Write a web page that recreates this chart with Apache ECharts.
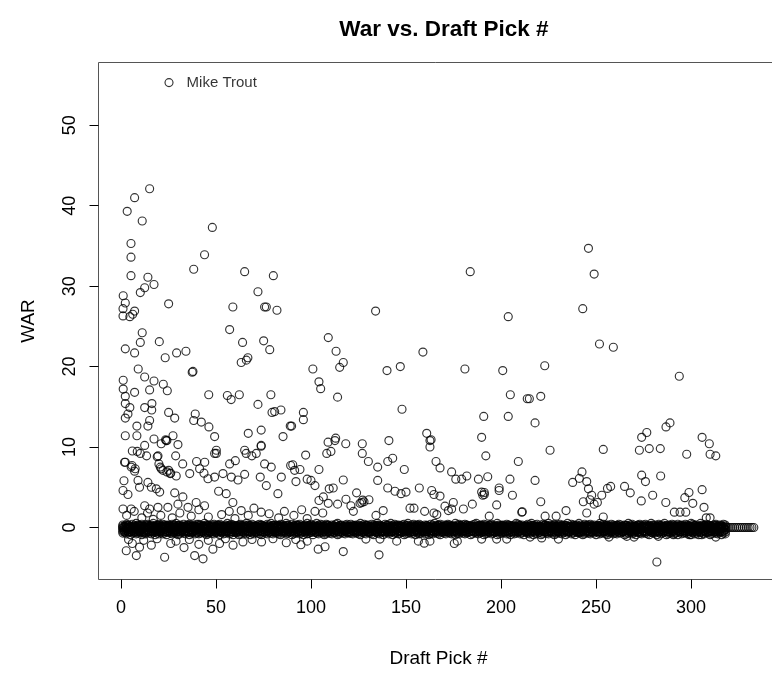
<!DOCTYPE html>
<html>
<head>
<meta charset="utf-8">
<title>War vs. Draft Pick #</title>
<script src="https://cdn.jsdelivr.net/npm/echarts@6/dist/echarts.min.js"></script>
<style>
  html, body { margin: 0; padding: 0; background: #fff; }
  #chart { width: 772px; height: 673px; }
</style>
</head>
<body>
<div id="chart"></div>
<script>
// axis ticks
const xTicks = [0, 50, 100, 150, 200, 250, 300];
const yTicks = [0, 10, 20, 30, 40, 50];

// labelled player
const labelled = [[25.3, 55.3, 'Mike Trout']];

// players with WAR above ~10  [pick, war]
const topPlayers = [
  [15.1,42.1],[7.2,41.0],[3.3,39.3],[11.2,38.1],[48.1,37.3],[5.3,35.3],[5.3,33.6],[44,33.9],[38.3,32.1],[5.3,31.3],
  [14.2,31.1],[17.4,30.2],[12.5,29.8],[10.2,29.2],[1.2,28.8],[2.3,27.9],[1.1,27.2],[7.2,26.9],[1.1,26.3],[4.7,26.2],
  [6.2,26.5],[25.1,27.8],[11.2,24.2],[10.2,23.0],[20.2,23.1],[2.3,22.2],[7.2,21.7],[23.3,21.1],[29.3,21.7],[34.2,21.9],
  [37.5,19.3],[37.9,19.4],[9.1,19.7],[12.5,18.7],[1.2,18.3],[17.4,18.2],[22.3,17.8],[1.2,17.2],[7.2,16.8],[15.1,17.1],
  [24.4,17.0],[46.2,16.5],[2.3,16.3],[2.3,15.4],[4.7,14.9],[12.5,14.9],[16.3,15.4],[16.2,14.6],[2.3,13.6],[3.7,14.1],
  [25.1,14.3],[28.3,13.6],[39.1,14.1],[38.3,13.3],[42.3,13.1],[46.3,12.5],[49.3,11.3],[15.1,13.3],[14.2,12.6],[8.4,12.6],
  [2.3,11.4],[8.4,11.4],[17.4,11.0],[27.4,11.4],[12.5,10.2],[21.2,10.4],[23.8,10.8],[30,10.3],[24.2,10.8],[23.5,10.9],
  [65.1,31.8],[80.2,31.3],[72.1,29.3],[58.9,27.4],[75.6,27.4],[76.5,27.4],[82.1,27.0],[57.2,24.6],[64,23.0],[75.1,23.2],
  [78.3,22.1],[63.3,20.5],[66.8,21.1],[66,20.8],[56,16.4],[58,15.9],[62.3,16.5],[78.9,16.5],[72.1,15.3],[79.5,14.3],
  [80.9,14.4],[84.2,14.6],[89.1,12.6],[67,11.7],[73.8,12.1],[85.3,11.3],[73.8,10.2],
  [183.8,31.8],[134,26.9],[203.8,26.2],[109.1,23.6],[113.2,21.9],[117,20.5],[115.1,19.9],[101,19.7],[158.9,21.8],[140,19.5],
  [147,20.0],[181,19.7],[200.9,19.5],[104.2,18.1],[105.1,17.25],[114,16.2],[204.9,16.5],[213.8,16.0],[147.9,14.7],[96,14.3],
  [96,13.4],[89.8,12.6],[190.9,13.8],[203.8,13.8],[189.8,11.2],[160.9,11.7],[163.2,10.9],[109,10.6],[113,11.1],[118.3,10.4],
  [127,10.4],[141,10.8],[162.6,10.8],[162.6,10.0],[112.6,10.8],
  [246,34.7],[249,31.5],[243,27.2],[251.8,22.8],[259.1,22.4],[223,20.1],[293.8,18.8],[214.9,16.0],[220.9,16.3],[217.9,13.0],
  [286.8,12.5],[288.9,13.0],[274,11.2],[276.7,11.8],[305.8,11.2],[309.6,10.4]
];

// players between ~3 and ~10 WAR
const midPlayers = [
  [6,9.5],[8.6,9.45],[10.2,9.2],[49.3,9.2],[13.5,8.9],[19.1,8.8],[28.8,8.9],[2.3,8.1],[5.8,7.7],[7.5,7.3],
  [20,7.9],[21.2,7.3],[25.1,7.1],[26.2,6.75],[32.5,7.9],[39.8,8.2],[44.1,8.1],[19.5,8.9],[20.7,7.5],[22.1,7.1],
  [24.2,6.9],[25.9,6.7],[29.1,6.4],[1.9,8.1],[5.4,7.5],[7.2,7.0],[1.6,5.8],[9,5.85],[9.8,5.0],[1.1,4.6],
  [3.7,4.1],[14.2,5.6],[16,5.0],[18.6,4.8],[20.4,4.4],[28.3,4.3],[32.6,3.8],[36.2,6.7],[41.4,7.3],[43.7,6.75],
  [45.8,6.06],[49.3,6.26],[50.2,9.2],[57.2,7.9],[60.2,8.3],[65.9,9.2],[68.9,8.9],[73.8,10.1],[71.2,9.2],[53.7,6.7],
  [58.1,6.26],[61.6,5.9],[65.1,6.6],[51.4,4.5],[55.4,4.2],[58.9,3.1],[75.6,7.9],[79.1,7.5],[84.4,6.26],[89.3,7.7],
  [91.4,7.1],[73.3,6.26],[76.5,5.2],[82.6,4.2],[50.2,9.6],[65.1,9.6],
  [97.2,9.0],[108.3,9.2],[110.5,9.45],[127,9.2],[130.2,8.2],[135.1,7.5],[140.4,8.2],[143,8.6],[149.1,7.2],[165.8,8.2],
  [167.9,7.4],[174,6.9],[176.2,6.0],[179.3,6.0],[182,6.4],[188.1,6.0],[193,6.3],[204.7,6.0],[192,8.9],[209.1,8.2],
  [90.4,7.8],[94.2,7.2],[92.1,5.7],[98,6.0],[100,5.85],[102.1,5.2],[104.2,7.2],[117,5.9],[109.6,4.8],[111.7,4.9],
  [135.1,5.85],[140.4,4.9],[144.2,4.5],[147.4,4.2],[150,4.4],[124,4.3],[127.2,3.4],[125.8,3.0],[130.5,3.45],[157,4.9],
  [163.5,4.6],[164.7,4.1],[167.9,3.9],[189.8,4.4],[191.2,4.1],[199,4.9],[199,4.6],[206,4.0],[104.2,3.35],[106.5,3.8],
  [109.1,3.0],[114,2.9],[118.4,3.5],[121,2.7],[126.7,3.1],[127.9,3.2],[174.9,3.1],[184.9,2.9],[190.4,4.0],[191.2,4.35],
  [197.7,2.8],
  [225.8,9.6],[253.8,9.7],[272.8,9.6],[278,9.8],[283.8,9.8],[297.7,9.1],[310,9.1],[313,8.9],[217.9,5.85],[237.7,5.6],
  [242.6,6.9],[241.2,6.1],[245.1,5.7],[246,4.8],[247.7,4.0],[243.3,3.2],[246.8,3.45],[249,2.9],[250.7,3.1],[253,4.0],
  [256,4.85],[257.7,5.1],[220.9,3.2],[265,5.1],[268,4.3],[274,6.5],[276,5.7],[284,6.4],[273.8,3.3],[279.8,4.0],
  [286.7,3.1],[296.7,3.7],[298.9,4.35],[300.9,3.0],[305.8,4.7]
];

// players with small positive WAR, just above the zero band
const lowPlayers = [
  [1.1,2.3],[5.4,2.3],[12.5,2.7],[15.1,2.3],[19.5,2.5],[24.7,2.5],[35.3,2.5],[39.6,3.1],[44,2.7],[30,2.9],
  [63.3,2.1],[73.8,1.9],[95.1,2.2],[102.1,2.0],[106.2,1.8],[122.3,2.0],[134.2,1.5],[138,2.1],[152.1,2.4],[154.2,2.4],
  [159.8,2.0],[164.7,1.8],[166.2,1.6],[170.5,2.65],[172.3,2.1],[174,2.3],[180.2,2.3],[193.8,1.4],[210.9,1.9],[245.1,1.8],
  [211.2,1.95],[253.8,1.3],[291.2,1.9],[294.2,1.9],[297.2,1.9],[306.8,2.5],[308,1.2],[310,1.2],[234.2,2.1],[229,1.4],
  [223.2,1.4],
  [3,1.5],[7,2.0],[11,1.2],[14,1.8],[17,1.0],[21,1.5],[27,1.2],[31,1.8],[37,1.4],[41,2.2],
  [46,1.3],[53,1.6],[57,2.0],[60,1.1],[67,1.5],[70,2.4],[78,1.7],[83,1.2],[86,2.0],[91,1.5],[98,1.1]
];

// players below the zero band
const negPlayers = [
  [282,-4.3],[2.8,-2.9],[8.1,-3.5],[9.8,-2.45],[23,-3.7],[26.2,-2.0],[33.2,-2.5],[38.8,-3.5],[43.2,-3.9],[48.4,-2.7],
  [51.9,-2.0],[64.2,-1.8],[94.7,-2.15],[103.8,-2.7],[107.4,-2.4],[117,-3.0],[135.8,-3.4],[128.9,-1.45],[136.3,-1.45],[145.1,-1.7],
  [156.5,-1.7],[159.6,-1.95],[162.6,-1.7],[175.4,-2.0],[177,-1.7],[189.8,-1.45],[197.7,-1.45],[203,-1.45],[215.3,-1.2],[221.4,-1.3],
  [230.2,-1.45],[241,-0.7],[256.8,-1.2],[266.2,-1.1],[270,-1.2],[282.8,-1.1],[290.7,-0.9],[299.1,-0.9],[305.6,-0.9],[313,-1.2],
  [4,-1.5],[6,-2.0],[12,-1.6],[16,-2.2],[19,-1.4],[29,-1.7],[36,-1.5],[41,-2.1],[46,-1.6],[55,-1.4],
  [59,-2.2],[69,-1.5],[74,-1.8],[80,-1.4],[87,-1.9],[92,-1.5],[98,-1.7]
];

// the dense band of near-zero WAR: one entry per pick
const bandPicks = [
  1,2,3,4,5,6,7,8,9,10,11,12,13,14,15,16,17,18,19,20,
  21,22,23,24,25,26,27,28,29,30,31,32,33,34,35,36,37,38,39,40,
  41,42,43,44,45,46,47,48,49,50,51,52,53,54,55,56,57,58,59,60,
  61,62,63,64,65,66,67,68,69,70,71,72,73,74,75,76,77,78,79,80,
  81,82,83,84,85,86,87,88,89,90,91,92,93,94,95,96,97,98,99,100,
  101,102,103,104,105,106,107,108,109,110,111,112,113,114,115,116,117,118,119,120,
  121,122,123,124,125,126,127,128,129,130,131,132,133,134,135,136,137,138,139,140,
  141,142,143,144,145,146,147,148,149,150,151,152,153,154,155,156,157,158,159,160,
  161,162,163,164,165,166,167,168,169,170,171,172,173,174,175,176,177,178,179,180,
  181,182,183,184,185,186,187,188,189,190,191,192,193,194,195,196,197,198,199,200,
  201,202,203,204,205,206,207,208,209,210,211,212,213,214,215,216,217,218,219,220,
  221,222,223,224,225,226,227,228,229,230,231,232,233,234,235,236,237,238,239,240,
  241,242,243,244,245,246,247,248,249,250,251,252,253,254,255,256,257,258,259,260,
  261,262,263,264,265,266,267,268,269,270,271,272,273,274,275,276,277,278,279,280,
  281,282,283,284,285,286,287,288,289,290,291,292,293,294,295,296,297,298,299,300,
  301,302,303,304,305,306,307,308,309,310,311,312,313,314,315,316,317,318,319,320,
  321,322,323,324,325,326,327,328,329,330,331,332,333
];

// players who never played: WAR exactly 0 at every pick
const bandZero = [
  0,0,0,0,0,0,0,0,0,0,0,0,0,0,0,0,0,0,0,0, 0,0,0,0,0,0,0,0,0,0,0,0,0,0,0,0,0,0,0,0,
  0,0,0,0,0,0,0,0,0,0,0,0,0,0,0,0,0,0,0,0, 0,0,0,0,0,0,0,0,0,0,0,0,0,0,0,0,0,0,0,0,
  0,0,0,0,0,0,0,0,0,0,0,0,0,0,0,0,0,0,0,0, 0,0,0,0,0,0,0,0,0,0,0,0,0,0,0,0,0,0,0,0,
  0,0,0,0,0,0,0,0,0,0,0,0,0,0,0,0,0,0,0,0, 0,0,0,0,0,0,0,0,0,0,0,0,0,0,0,0,0,0,0,0,
  0,0,0,0,0,0,0,0,0,0,0,0,0,0,0,0,0,0,0,0, 0,0,0,0,0,0,0,0,0,0,0,0,0,0,0,0,0,0,0,0,
  0,0,0,0,0,0,0,0,0,0,0,0,0,0,0,0,0,0,0,0, 0,0,0,0,0,0,0,0,0,0,0,0,0,0,0,0,0,0,0,0,
  0,0,0,0,0,0,0,0,0,0,0,0,0,0,0,0,0,0,0,0, 0,0,0,0,0,0,0,0,0,0,0,0,0,0,0,0,0,0,0,0,
  0,0,0,0,0,0,0,0,0,0,0,0,0,0,0,0,0,0,0,0, 0,0,0,0,0,0,0,0,0,0,0,0,0,0,0,0,0,0,0,0,
  0,0,0,0,0,0,0,0,0,0,0,0,0
];

// brief major-leaguers slightly above zero (picks 1-318)
const bandUp = [
  0.3,0.2,0.4,0.3,0.1,0.4,0.2,0.5,0.3,0.2,0.4,0.1,0.3,0.4,0.2,0.3,0.5,0.2,0.3,0.4,
  0.2,0.4,0.3,0.1,0.3,0.2,0.4,0.3,0.5,0.2,0.3,0.1,0.4,0.2,0.3,0.4,0.2,0.3,0.1,0.4,
  0.4,0.3,0.2,0.5,0.3,0.2,0.1,0.3,0.4,0.2,0.3,0.4,0.2,0.1,0.3,0.5,0.2,0.4,0.3,0.2,
  0.1,0.3,0.4,0.2,0.3,0.5,0.3,0.2,0.4,0.1,0.2,0.3,0.4,0.3,0.2,0.1,0.4,0.3,0.5,0.2,
  0.3,0.1,0.2,0.4,0.3,0.2,0.5,0.3,0.1,0.4,0.2,0.3,0.3,0.4,0.1,0.2,0.3,0.5,0.2,0.4,
  0.2,0.3,0.5,0.1,0.4,0.3,0.2,0.4,0.3,0.1,0.3,0.2,0.4,0.5,0.2,0.3,0.1,0.3,0.4,0.2,
  0.4,0.2,0.1,0.3,0.3,0.5,0.2,0.4,0.2,0.3,0.1,0.4,0.3,0.2,0.5,0.3,0.2,0.1,0.4,0.3,
  0.3,0.5,0.2,0.4,0.1,0.3,0.2,0.3,0.4,0.2,0.5,0.1,0.3,0.4,0.2,0.3,0.4,0.2,0.1,0.3,
  0.2,0.1,0.4,0.3,0.5,0.2,0.3,0.4,0.1,0.3,0.2,0.4,0.3,0.2,0.1,0.5,0.3,0.4,0.2,0.3,
  0.4,0.3,0.2,0.1,0.3,0.4,0.5,0.2,0.3,0.2,0.4,0.3,0.1,0.3,0.4,0.2,0.2,0.5,0.3,0.1,
  0.3,0.2,0.4,0.3,0.2,0.1,0.3,0.5,0.4,0.2,0.3,0.1,0.2,0.4,0.3,0.5,0.2,0.3,0.4,0.1,
  0.1,0.4,0.3,0.2,0.5,0.3,0.2,0.4,0.1,0.3,0.4,0.2,0.3,0.2,0.5,0.1,0.4,0.3,0.2,0.3,
  0.5,0.3,0.1,0.4,0.2,0.3,0.4,0.2,0.3,0.1,0.2,0.5,0.3,0.4,0.2,0.3,0.1,0.4,0.3,0.2,
  0.2,0.4,0.3,0.1,0.3,0.2,0.5,0.3,0.4,0.2,0.1,0.3,0.4,0.2,0.3,0.4,0.2,0.1,0.5,0.3,
  0.3,0.1,0.4,0.2,0.3,0.5,0.2,0.3,0.1,0.4,0.3,0.2,0.4,0.1,0.3,0.2,0.4,0.3,0.2,0.5,
  0.4,0.2,0.3,0.1,0.5,0.3,0.2,0.4,0.3,0.2,0.1,0.3,0.4,0.2,0.3,0.2,0.4,0.3
];

// a second group just above zero (picks 1-318)
const bandUp2 = [
  0.15,0.1,0.2,0.25,0.1,0.15,0.2,0.1,0.25,0.15,0.2,0.1,0.15,0.25,0.1,0.2,0.15,0.1,0.2,0.25,
  0.1,0.2,0.15,0.25,0.2,0.1,0.15,0.2,0.1,0.25,0.15,0.2,0.1,0.15,0.25,0.2,0.1,0.15,0.2,0.1,
  0.25,0.15,0.1,0.2,0.15,0.25,0.1,0.2,0.15,0.1,0.25,0.2,0.15,0.1,0.2,0.15,0.25,0.1,0.2,0.15,
  0.2,0.1,0.25,0.15,0.1,0.2,0.15,0.25,0.1,0.2,0.15,0.1,0.2,0.25,0.15,0.1,0.2,0.15,0.1,0.25,
  0.1,0.25,0.15,0.2,0.1,0.15,0.2,0.25,0.1,0.15,0.2,0.1,0.25,0.15,0.2,0.1,0.15,0.2,0.25,0.1,
  0.2,0.15,0.1,0.25,0.2,0.1,0.15,0.2,0.25,0.1,0.15,0.2,0.1,0.15,0.25,0.2,0.1,0.15,0.2,0.1,
  0.15,0.2,0.25,0.1,0.15,0.2,0.1,0.15,0.25,0.2,0.1,0.15,0.2,0.1,0.25,0.15,0.2,0.1,0.15,0.25,
  0.1,0.15,0.2,0.1,0.25,0.15,0.2,0.1,0.15,0.2,0.25,0.1,0.15,0.2,0.1,0.25,0.15,0.2,0.1,0.15,
  0.25,0.1,0.15,0.2,0.1,0.15,0.25,0.2,0.1,0.15,0.2,0.25,0.1,0.15,0.2,0.1,0.15,0.25,0.2,0.1,
  0.15,0.25,0.1,0.2,0.15,0.1,0.2,0.15,0.25,0.1,0.2,0.15,0.1,0.25,0.2,0.15,0.1,0.2,0.15,0.25,
  0.2,0.1,0.15,0.25,0.1,0.2,0.15,0.1,0.2,0.25,0.15,0.1,0.2,0.15,0.1,0.25,0.2,0.15,0.1,0.2,
  0.1,0.2,0.25,0.15,0.2,0.1,0.15,0.25,0.1,0.2,0.15,0.2,0.1,0.25,0.15,0.1,0.2,0.15,0.25,0.1,
  0.15,0.1,0.2,0.15,0.25,0.1,0.2,0.15,0.1,0.2,0.25,0.15,0.1,0.2,0.15,0.25,0.1,0.15,0.2,0.1,
  0.25,0.2,0.1,0.15,0.2,0.25,0.1,0.15,0.2,0.1,0.15,0.25,0.2,0.1,0.15,0.2,0.1,0.25,0.15,0.2,
  0.1,0.15,0.25,0.2,0.1,0.15,0.2,0.1,0.25,0.15,0.2,0.1,0.15,0.25,0.2,0.1,0.15,0.2,0.1,0.15,
  0.2,0.25,0.1,0.15,0.2,0.1,0.25,0.15,0.2,0.1,0.15,0.2,0.25,0.1,0.15,0.2,0.1,0.15
];

// brief major-leaguers slightly below zero (picks 1-318)
const bandDown = [
  -0.3,-0.4,-0.2,-0.5,-0.3,-0.4,-0.3,-0.2,-0.4,-0.5,-0.3,-0.2,-0.4,-0.3,-0.5,-0.4,-0.2,-0.3,-0.4,-0.3,
  -0.4,-0.2,-0.3,-0.5,-0.4,-0.3,-0.2,-0.4,-0.3,-0.5,-0.2,-0.4,-0.3,-0.4,-0.2,-0.5,-0.3,-0.4,-0.3,-0.2,
  -0.2,-0.5,-0.4,-0.3,-0.2,-0.4,-0.5,-0.3,-0.2,-0.4,-0.3,-0.5,-0.4,-0.2,-0.3,-0.4,-0.3,-0.5,-0.2,-0.4,
  -0.5,-0.3,-0.2,-0.4,-0.3,-0.2,-0.4,-0.5,-0.3,-0.4,-0.2,-0.3,-0.4,-0.5,-0.3,-0.2,-0.4,-0.3,-0.2,-0.5,
  -0.3,-0.4,-0.5,-0.2,-0.4,-0.3,-0.3,-0.4,-0.2,-0.5,-0.4,-0.3,-0.2,-0.4,-0.5,-0.3,-0.4,-0.2,-0.3,-0.4,
  -0.4,-0.3,-0.2,-0.5,-0.3,-0.4,-0.2,-0.3,-0.5,-0.4,-0.3,-0.2,-0.4,-0.3,-0.5,-0.2,-0.3,-0.4,-0.3,-0.5,
  -0.2,-0.4,-0.3,-0.4,-0.5,-0.3,-0.2,-0.4,-0.3,-0.2,-0.5,-0.4,-0.3,-0.4,-0.2,-0.3,-0.5,-0.4,-0.2,-0.3,
  -0.5,-0.3,-0.4,-0.2,-0.3,-0.4,-0.5,-0.2,-0.4,-0.3,-0.3,-0.4,-0.2,-0.5,-0.3,-0.4,-0.2,-0.3,-0.4,-0.5,
  -0.3,-0.2,-0.4,-0.5,-0.3,-0.4,-0.2,-0.3,-0.4,-0.2,-0.5,-0.3,-0.4,-0.3,-0.2,-0.4,-0.5,-0.3,-0.2,-0.4,
  -0.4,-0.5,-0.3,-0.2,-0.4,-0.3,-0.5,-0.4,-0.2,-0.3,-0.4,-0.3,-0.5,-0.2,-0.4,-0.3,-0.2,-0.4,-0.5,-0.3,
  -0.2,-0.3,-0.5,-0.4,-0.3,-0.2,-0.4,-0.3,-0.5,-0.4,-0.2,-0.3,-0.4,-0.5,-0.3,-0.2,-0.4,-0.3,-0.4,-0.2,
  -0.3,-0.4,-0.2,-0.3,-0.5,-0.4,-0.3,-0.2,-0.4,-0.5,-0.3,-0.4,-0.2,-0.3,-0.4,-0.5,-0.3,-0.2,-0.4,-0.3,
  -0.5,-0.2,-0.4,-0.3,-0.4,-0.2,-0.5,-0.3,-0.3,-0.4,-0.5,-0.2,-0.3,-0.4,-0.2,-0.3,-0.5,-0.4,-0.3,-0.2,
  -0.4,-0.3,-0.2,-0.5,-0.4,-0.3,-0.2,-0.4,-0.3,-0.5,-0.4,-0.3,-0.2,-0.3,-0.4,-0.5,-0.2,-0.4,-0.3,-0.4,
  -0.3,-0.5,-0.4,-0.2,-0.3,-0.4,-0.3,-0.5,-0.2,-0.4,-0.3,-0.2,-0.4,-0.5,-0.3,-0.4,-0.2,-0.3,-0.5,-0.4,
  -0.2,-0.4,-0.3,-0.5,-0.3,-0.2,-0.4,-0.3,-0.5,-0.4,-0.2,-0.3,-0.4,-0.3,-0.5,-0.2,-0.4,-0.3
];

// a second group just below zero (picks 1-318)
const bandDown2 = [
  -0.1,-0.2,-0.15,-0.25,-0.1,-0.2,-0.15,-0.1,-0.25,-0.2,-0.15,-0.1,-0.2,-0.25,-0.15,-0.1,-0.2,-0.15,-0.25,-0.1,
  -0.2,-0.15,-0.25,-0.1,-0.2,-0.15,-0.1,-0.25,-0.2,-0.1,-0.15,-0.25,-0.2,-0.1,-0.15,-0.2,-0.25,-0.1,-0.15,-0.2,
  -0.15,-0.25,-0.1,-0.2,-0.15,-0.1,-0.2,-0.25,-0.15,-0.1,-0.2,-0.15,-0.25,-0.1,-0.2,-0.15,-0.1,-0.2,-0.25,-0.15,
  -0.25,-0.1,-0.2,-0.15,-0.25,-0.2,-0.1,-0.15,-0.2,-0.25,-0.1,-0.15,-0.2,-0.1,-0.25,-0.15,-0.2,-0.1,-0.15,-0.25,
  -0.1,-0.15,-0.25,-0.2,-0.1,-0.15,-0.2,-0.25,-0.1,-0.2,-0.15,-0.1,-0.25,-0.2,-0.15,-0.1,-0.2,-0.25,-0.15,-0.1,
  -0.2,-0.25,-0.1,-0.15,-0.2,-0.1,-0.25,-0.15,-0.2,-0.1,-0.15,-0.2,-0.25,-0.1,-0.15,-0.2,-0.1,-0.25,-0.2,-0.15,
  -0.15,-0.1,-0.2,-0.25,-0.15,-0.1,-0.2,-0.15,-0.25,-0.1,-0.2,-0.15,-0.1,-0.25,-0.2,-0.15,-0.1,-0.2,-0.15,-0.25,
  -0.2,-0.15,-0.1,-0.2,-0.25,-0.15,-0.1,-0.2,-0.15,-0.25,-0.1,-0.2,-0.15,-0.1,-0.2,-0.25,-0.15,-0.1,-0.2,-0.15,
  -0.25,-0.2,-0.15,-0.1,-0.2,-0.25,-0.15,-0.1,-0.2,-0.15,-0.25,-0.1,-0.2,-0.15,-0.1,-0.25,-0.2,-0.15,-0.1,-0.2,
  -0.1,-0.25,-0.2,-0.15,-0.1,-0.2,-0.15,-0.25,-0.1,-0.2,-0.15,-0.1,-0.25,-0.2,-0.15,-0.1,-0.2,-0.25,-0.15,-0.1,
  -0.2,-0.1,-0.15,-0.25,-0.2,-0.1,-0.15,-0.2,-0.25,-0.1,-0.15,-0.2,-0.1,-0.25,-0.15,-0.2,-0.1,-0.15,-0.25,-0.2,
  -0.15,-0.2,-0.25,-0.1,-0.15,-0.2,-0.1,-0.25,-0.15,-0.2,-0.1,-0.15,-0.2,-0.25,-0.1,-0.15,-0.2,-0.1,-0.25,-0.15,
  -0.1,-0.15,-0.2,-0.25,-0.1,-0.2,-0.15,-0.1,-0.25,-0.2,-0.15,-0.1,-0.2,-0.15,-0.25,-0.1,-0.2,-0.15,-0.1,-0.25,
  -0.25,-0.1,-0.15,-0.2,-0.1,-0.25,-0.2,-0.15,-0.1,-0.2,-0.25,-0.15,-0.1,-0.2,-0.15,-0.1,-0.25,-0.2,-0.15,-0.1,
  -0.2,-0.15,-0.1,-0.25,-0.2,-0.15,-0.1,-0.2,-0.25,-0.15,-0.1,-0.2,-0.15,-0.25,-0.1,-0.2,-0.15,-0.1,-0.2,-0.25,
  -0.15,-0.1,-0.25,-0.2,-0.15,-0.1,-0.2,-0.25,-0.15,-0.1,-0.2,-0.15,-0.25,-0.1,-0.2,-0.15,-0.1,-0.2
];

// slightly worse than replacement (picks 1-318)
const bandLow = [
  -0.7,-0.6,-0.8,-0.6,-0.9,-0.7,-0.6,-0.8,-0.7,-0.6,-0.9,-0.7,-0.8,-0.6,-0.7,-0.8,-0.6,-0.9,-0.7,-0.8,
  -0.6,-0.8,-0.7,-0.9,-0.6,-0.7,-0.8,-0.6,-0.7,-0.9,-0.8,-0.6,-0.7,-0.8,-0.6,-0.9,-0.7,-0.6,-0.8,-0.7,
  -0.8,-0.7,-0.6,-0.7,-0.9,-0.8,-0.6,-0.7,-0.8,-0.6,-0.7,-0.9,-0.6,-0.8,-0.7,-0.6,-0.8,-0.7,-0.9,-0.6,
  -0.7,-0.9,-0.8,-0.6,-0.7,-0.8,-0.6,-0.9,-0.7,-0.8,-0.6,-0.7,-0.8,-0.9,-0.6,-0.7,-0.8,-0.6,-0.7,-0.8,
  -0.6,-0.7,-0.8,-0.9,-0.7,-0.6,-0.8,-0.7,-0.6,-0.9,-0.8,-0.7,-0.6,-0.8,-0.7,-0.9,-0.6,-0.8,-0.7,-0.6,
  -0.9,-0.6,-0.7,-0.8,-0.6,-0.7,-0.9,-0.8,-0.6,-0.7,-0.8,-0.6,-0.7,-0.9,-0.8,-0.6,-0.7,-0.8,-0.6,-0.7,
  -0.7,-0.8,-0.6,-0.7,-0.8,-0.9,-0.6,-0.7,-0.8,-0.6,-0.7,-0.8,-0.9,-0.6,-0.7,-0.8,-0.6,-0.9,-0.7,-0.6,
  -0.8,-0.6,-0.9,-0.7,-0.6,-0.8,-0.7,-0.6,-0.9,-0.8,-0.7,-0.6,-0.8,-0.7,-0.9,-0.6,-0.8,-0.7,-0.6,-0.8,
  -0.6,-0.9,-0.7,-0.8,-0.6,-0.7,-0.8,-0.9,-0.6,-0.7,-0.8,-0.6,-0.7,-0.8,-0.6,-0.9,-0.7,-0.8,-0.6,-0.7,
  -0.8,-0.7,-0.6,-0.9,-0.8,-0.6,-0.7,-0.8,-0.7,-0.6,-0.9,-0.8,-0.7,-0.6,-0.8,-0.7,-0.6,-0.9,-0.8,-0.7,
  -0.7,-0.6,-0.8,-0.7,-0.9,-0.6,-0.8,-0.7,-0.6,-0.8,-0.7,-0.9,-0.6,-0.7,-0.8,-0.6,-0.9,-0.7,-0.8,-0.6,
  -0.9,-0.8,-0.6,-0.7,-0.8,-0.6,-0.7,-0.9,-0.8,-0.6,-0.7,-0.8,-0.6,-0.9,-0.7,-0.6,-0.8,-0.7,-0.9,-0.6,
  -0.6,-0.7,-0.9,-0.8,-0.6,-0.7,-0.8,-0.6,-0.7,-0.9,-0.6,-0.8,-0.7,-0.6,-0.8,-0.9,-0.7,-0.6,-0.8,-0.7,
  -0.8,-0.6,-0.7,-0.6,-0.9,-0.8,-0.7,-0.6,-0.8,-0.7,-0.9,-0.6,-0.7,-0.8,-0.6,-0.7,-0.8,-0.9,-0.6,-0.7,
  -0.7,-0.9,-0.6,-0.8,-0.7,-0.6,-0.9,-0.8,-0.7,-0.6,-0.8,-0.7,-0.9,-0.6,-0.8,-0.7,-0.6,-0.8,-0.7,-0.9,
  -0.6,-0.8,-0.7,-0.9,-0.6,-0.7,-0.8,-0.6,-0.7,-0.9,-0.8,-0.6,-0.7,-0.8,-0.6,-0.9,-0.7,-0.8
];

// a second group in the lower half of the band (picks 1-318)
const bandLow2 = [
  -0.5,-0.55,-0.45,-0.6,-0.5,-0.45,-0.55,-0.6,-0.5,-0.45,-0.55,-0.5,-0.6,-0.45,-0.5,-0.55,-0.45,-0.6,-0.5,-0.55,
  -0.45,-0.6,-0.5,-0.55,-0.45,-0.5,-0.6,-0.55,-0.45,-0.5,-0.6,-0.45,-0.55,-0.5,-0.45,-0.6,-0.55,-0.5,-0.45,-0.6,
  -0.55,-0.5,-0.6,-0.45,-0.55,-0.6,-0.5,-0.45,-0.55,-0.6,-0.5,-0.45,-0.6,-0.55,-0.5,-0.45,-0.6,-0.5,-0.55,-0.45,
  -0.6,-0.45,-0.55,-0.5,-0.6,-0.45,-0.5,-0.55,-0.6,-0.45,-0.55,-0.5,-0.45,-0.6,-0.5,-0.55,-0.45,-0.6,-0.5,-0.55,
  -0.5,-0.6,-0.45,-0.55,-0.5,-0.45,-0.6,-0.5,-0.55,-0.45,-0.6,-0.55,-0.5,-0.45,-0.6,-0.5,-0.55,-0.45,-0.5,-0.6,
  -0.45,-0.55,-0.6,-0.5,-0.45,-0.55,-0.5,-0.6,-0.45,-0.55,-0.5,-0.6,-0.45,-0.5,-0.55,-0.6,-0.45,-0.5,-0.6,-0.55,
  -0.55,-0.45,-0.5,-0.6,-0.55,-0.45,-0.6,-0.5,-0.45,-0.55,-0.6,-0.5,-0.45,-0.55,-0.5,-0.6,-0.45,-0.55,-0.5,-0.45,
  -0.6,-0.5,-0.55,-0.45,-0.6,-0.5,-0.45,-0.55,-0.6,-0.5,-0.45,-0.6,-0.55,-0.5,-0.45,-0.55,-0.6,-0.5,-0.45,-0.55,
  -0.5,-0.55,-0.6,-0.45,-0.5,-0.55,-0.45,-0.6,-0.5,-0.55,-0.45,-0.5,-0.6,-0.55,-0.45,-0.5,-0.6,-0.45,-0.55,-0.5,
  -0.45,-0.6,-0.5,-0.55,-0.45,-0.6,-0.55,-0.5,-0.45,-0.6,-0.5,-0.55,-0.45,-0.6,-0.5,-0.45,-0.55,-0.6,-0.5,-0.45,
  -0.55,-0.5,-0.45,-0.6,-0.55,-0.5,-0.6,-0.45,-0.55,-0.5,-0.6,-0.45,-0.5,-0.55,-0.6,-0.45,-0.5,-0.55,-0.45,-0.6,
  -0.6,-0.45,-0.55,-0.5,-0.6,-0.45,-0.5,-0.55,-0.6,-0.45,-0.55,-0.5,-0.6,-0.45,-0.5,-0.55,-0.45,-0.6,-0.5,-0.55,
  -0.45,-0.55,-0.5,-0.6,-0.45,-0.55,-0.6,-0.5,-0.45,-0.55,-0.5,-0.6,-0.55,-0.45,-0.5,-0.6,-0.45,-0.55,-0.5,-0.6,
  -0.5,-0.6,-0.45,-0.55,-0.5,-0.6,-0.45,-0.5,-0.55,-0.6,-0.45,-0.5,-0.55,-0.6,-0.45,-0.5,-0.55,-0.45,-0.6,-0.5,
  -0.55,-0.45,-0.6,-0.5,-0.55,-0.45,-0.5,-0.6,-0.55,-0.45,-0.5,-0.6,-0.45,-0.55,-0.5,-0.6,-0.45,-0.55,-0.5,-0.45,
  -0.6,-0.5,-0.55,-0.45,-0.6,-0.5,-0.45,-0.55,-0.6,-0.5,-0.45,-0.55,-0.5,-0.6,-0.45,-0.55,-0.5,-0.6
];

const FONT = '"Liberation Sans", Arial, Helvetica, sans-serif';
const ringStyle = {
  color: 'rgba(0,0,0,0)',
  borderColor: '#000',
  borderWidth: 1.15
};

function layerToPoints(layer) {
  return layer.map((war, i) => [bandPicks[i], war]);
}

function ringSeries(data, extra) {
  return Object.assign({
    type: 'scatter',
    data: data,
    symbol: 'circle',
    symbolSize: 8,
    itemStyle: ringStyle,
    silent: true,
    animation: false,
    progressive: 0,
    emphasis: { disabled: true }
  }, extra || {});
}

const chart = echarts.init(document.getElementById('chart'), null, { renderer: 'canvas' });

chart.setOption({
  backgroundColor: '#fff',
  animation: false,
  title: {
    text: 'War vs. Draft Pick #',
    left: 439,
    top: 13,
    textAlign: 'center',
    textStyle: { fontFamily: FONT, fontWeight: 'bold', fontSize: 22.5, color: '#000' }
  },
  grid: {
    left: 98.5,
    top: 62.5,
    width: 680,
    bottom: 93.5,
    outerBoundsMode: 'none',
    show: true,
    borderColor: '#555',
    borderWidth: 1,
    backgroundColor: 'transparent'
  },
  xAxis: {
    type: 'value',
    min: -11.8,
    max: 346,
    axisLine: { show: false, onZero: false },
    axisTick: { show: true, customValues: xTicks, length: 9, lineStyle: { color: '#000', width: 1 } },
    axisLabel: { customValues: xTicks, fontFamily: FONT, fontSize: 18, color: '#000', margin: 20 },
    splitLine: { show: false },
    name: 'Draft Pick #',
    nameLocation: 'middle',
    nameGap: 70,
    nameTextStyle: { fontFamily: FONT, fontSize: 19, color: '#000' }
  },
  yAxis: {
    type: 'value',
    min: -6.47,
    max: 57.8,
    axisLine: { show: false, onZero: false },
    axisTick: { show: true, customValues: yTicks, length: 9, lineStyle: { color: '#000', width: 1 } },
    axisLabel: { customValues: yTicks, rotate: 90, fontFamily: FONT, fontSize: 18, color: '#000', margin: 19 },
    splitLine: { show: false },
    name: 'WAR',
    nameLocation: 'middle',
    nameGap: 60,
    nameRotate: 90,
    nameTextStyle: { fontFamily: FONT, fontSize: 19, color: '#000' }
  },
  series: [
    ringSeries(layerToPoints(bandLow)),
    ringSeries(layerToPoints(bandLow2)),
    ringSeries(layerToPoints(bandDown)),
    ringSeries(layerToPoints(bandDown2)),
    ringSeries(layerToPoints(bandZero)),
    ringSeries(layerToPoints(bandUp2)),
    ringSeries(layerToPoints(bandUp)),
    ringSeries(negPlayers),
    ringSeries(lowPlayers),
    ringSeries(midPlayers),
    ringSeries(topPlayers),
    ringSeries(labelled, {
      label: {
        show: true,
        position: 'right',
        distance: 13,
        formatter: (p) => p.data[2],
        fontFamily: FONT,
        fontSize: 15,
        color: '#000'
      }
    })
  ]
});
</script>
</body>
</html>
